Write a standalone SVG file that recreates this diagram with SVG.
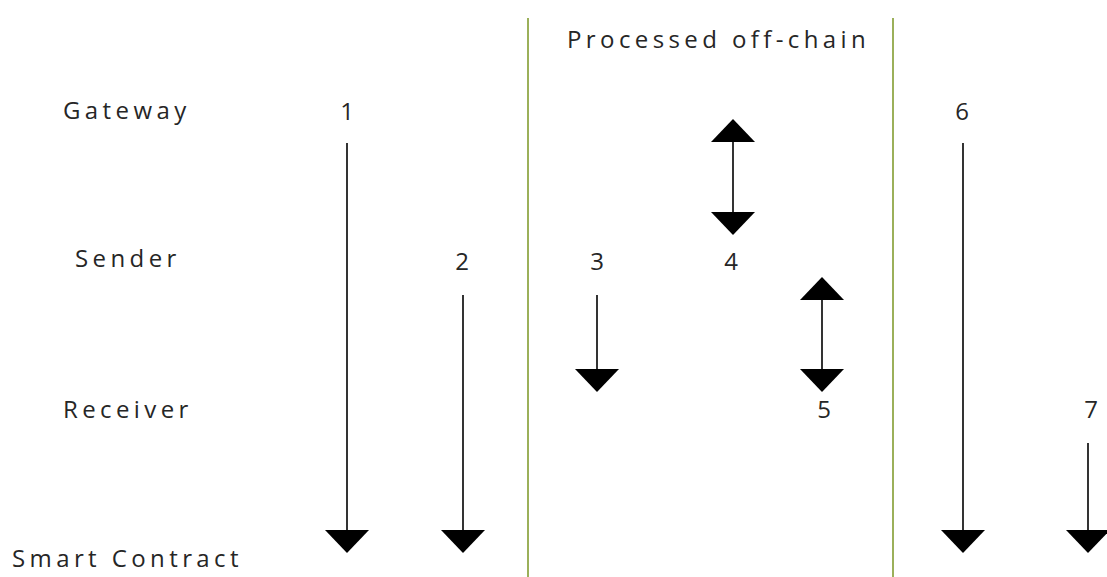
<svg xmlns="http://www.w3.org/2000/svg" width="1107" height="577" viewBox="0 0 1107 577">
  <style>
    .lbl { font-family: "Open Sans", "Liberation Sans", sans-serif; font-size: 24px; fill: #262626; letter-spacing: 4.4px; }
    .num { font-family: "Open Sans", "Liberation Sans", sans-serif; font-size: 24px; fill: #262626; text-anchor: middle; }
    .shaft { stroke: #000; stroke-width: 1.6; fill: none; }
    .head { fill: #000; }
    .divider { stroke: #9bb05a; stroke-width: 2; }
  </style>
  <defs>
    <!-- downward arrowhead: base centred at origin, tip 23 below -->
    <polygon id="down" class="head" points="-22,0 22,0 0,23"/>
    <!-- upward arrowhead: base centred at origin, tip 23 above -->
    <polygon id="up" class="head" points="-22,0 22,0 0,-23"/>
  </defs>
  <rect width="1107" height="577" fill="#fff"/>

  <!-- off-chain band -->
  <g id="offchain">
    <line class="divider" x1="528" y1="18" x2="528" y2="577"/>
    <line class="divider" x1="893" y1="18" x2="893" y2="577"/>
    <text class="lbl" x="567" y="48">Processed off-chain</text>
  </g>

  <!-- participant rows -->
  <g id="gateway"><text class="lbl" x="63" y="119">Gateway</text></g>
  <g id="sender"><text class="lbl" x="75" y="267">Sender</text></g>
  <g id="receiver"><text class="lbl" x="63" y="418">Receiver</text></g>
  <g id="smart-contract"><text class="lbl" x="12" y="567">Smart Contract</text></g>

  <!-- step numbers -->
  <g id="steps">
    <text class="num" x="347" y="120">1</text>
    <text class="num" x="462" y="270">2</text>
    <text class="num" x="597" y="270">3</text>
    <text class="num" x="731" y="270">4</text>
    <text class="num" x="824" y="418">5</text>
    <text class="num" x="962" y="120">6</text>
    <text class="num" x="1091" y="418">7</text>
  </g>

  <!-- message arrows -->
  <g id="connectors">
    <line class="shaft" x1="347" y1="143" x2="347" y2="531"/>
    <use href="#down" x="347" y="530"/>

    <line class="shaft" x1="463" y1="295" x2="463" y2="531"/>
    <use href="#down" x="463" y="530"/>

    <line class="shaft" x1="597" y1="295" x2="597" y2="370"/>
    <use href="#down" x="597" y="369"/>

    <line class="shaft" x1="733" y1="141" x2="733" y2="214"/>
    <use href="#up" x="733" y="142"/>
    <use href="#down" x="733" y="212"/>

    <line class="shaft" x1="822" y1="299" x2="822" y2="370"/>
    <use href="#up" x="822" y="300"/>
    <use href="#down" x="822" y="369"/>

    <line class="shaft" x1="963" y1="143" x2="963" y2="531"/>
    <use href="#down" x="963" y="530"/>

    <line class="shaft" x1="1088" y1="443" x2="1088" y2="531"/>
    <use href="#down" x="1088" y="530"/>
  </g>
</svg>
